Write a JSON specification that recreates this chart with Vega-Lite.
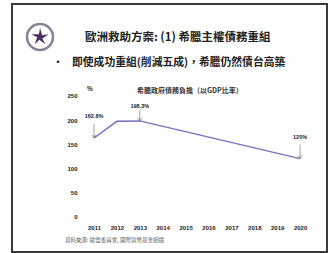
{
  "$schema": "https://vega.github.io/schema/vega-lite/v6.json",
  "width": 315,
  "height": 248,
  "autosize": {"type": "none"},
  "padding": {"left": 12, "top": 4, "right": 8, "bottom": 1},
  "background": "white",
  "config": {
    "view": {"stroke": "#3a3a3a", "strokeWidth": 2, "fill": "white"},
    "font": "Noto Sans CJK TC",
    "axis": {"grid": false, "domain": false, "ticks": false, "tickSize": 0, "title": null,
             "labelOverlap": false, "labelFlush": false, "labelBound": false,
             "labelFont": "Liberation Sans", "labelFontSize": 6, "labelFontWeight": "bold", "labelColor": "#222"}
  },
  "resolve": {"axis": {"x": "independent", "y": "independent"}},
  "datasets": {
    "debt": [
      {"year": 2011, "value": 162.8},
      {"year": 2012, "value": 197.5},
      {"year": 2013, "value": 198.3},
      {"year": 2020, "value": 120}
    ],
    "labels": [
      {"year": 2011, "value": 162.8, "label": "162.8%"},
      {"year": 2013, "value": 198.3, "label": "198.3%"},
      {"year": 2020, "value": 120, "label": "120%"}
    ],
    "texts": [{"slide": "歐洲救助方案: (1) 希臘主權債務重組", "bullet": "即使成功重組(削減五成)，希臘仍然債台高築", "sub": "希臘政府債務負擔（以GDP比率）", "unit": "%", "source": "資料來源: 歐盟委員會, 國際貨幣基金組織"}]
  },
  "layer": [
    {
      "data": {"name": "debt"},
      "mark": {"type": "line", "color": "#7272c2", "strokeWidth": 1.5},
      "encoding": {
        "x": {"field": "year", "type": "quantitative",
              "scale": {"domain": [2007.419, 2021.175], "nice": false, "zero": false},
              "axis": {"values": [2011, 2012, 2013, 2014, 2015, 2016, 2017, 2018, 2019, 2020], "format": "d", "title": null, "offset": -30, "labelPadding": 2, "labelOverlap": false}},
        "y": {"field": "value", "type": "quantitative",
              "scale": {"domain": [-73.7, 440.8], "nice": false, "zero": false},
              "axis": {"values": [0, 50, 100, 150, 200, 250], "title": null, "offset": -66, "labelPadding": 1, "labelOverlap": false}}
      }
    },
    {
      "data": {"name": "labels"},
      "transform": [{"filter": "datum.year != 2013"}],
      "mark": {"type": "point", "shape": "M0,-1L0,0M-0.15,-0.22L0,0L0.15,-0.22", "filled": false, "stroke": "#555", "strokeWidth": 0.8, "size": 784},
      "encoding": {
        "x": {"field": "year", "type": "quantitative", "axis": null},
        "y": {"field": "value", "type": "quantitative", "axis": null}
      }
    },
    {
      "data": {"name": "labels"},
      "transform": [{"filter": "datum.year == 2013"}],
      "mark": {"type": "point", "shape": "M0,-1L0,0M-0.2,-0.3L0,0L0.2,-0.3", "filled": false, "stroke": "#555", "strokeWidth": 0.8, "size": 441},
      "encoding": {
        "x": {"field": "year", "type": "quantitative", "axis": null},
        "y": {"field": "value", "type": "quantitative", "axis": null}
      }
    },
    {
      "data": {"name": "labels"},
      "transform": [{"filter": "datum.year != 2013"}],
      "mark": {"type": "text", "font": "Liberation Sans", "fontSize": 5.5, "fontWeight": "bold", "color": "#222", "dy": -22, "baseline": "middle"},
      "encoding": {
        "x": {"field": "year", "type": "quantitative", "axis": null},
        "y": {"field": "value", "type": "quantitative", "axis": null},
        "text": {"field": "label"}
      }
    },
    {
      "data": {"name": "labels"},
      "transform": [{"filter": "datum.year == 2013"}],
      "mark": {"type": "text", "font": "Liberation Sans", "fontSize": 5.5, "fontWeight": "bold", "color": "#222", "dy": -15, "baseline": "middle"},
      "encoding": {
        "x": {"field": "year", "type": "quantitative", "axis": null},
        "y": {"field": "value", "type": "quantitative", "axis": null},
        "text": {"field": "label"}
      }
    },
    {
      "data": {"name": "texts"},
      "mark": {"type": "text", "fontSize": 11.5, "fontWeight": "bold", "color": "#222", "align": "left", "baseline": "middle"},
      "encoding": {
        "x": {"datum": 2010.607, "type": "quantitative", "axis": null},
        "y": {"datum": 370.3, "type": "quantitative", "axis": null},
        "text": {"field": "slide"}
      }
    },
    {
      "data": {"name": "texts"},
      "mark": {"type": "text", "fontSize": 10.8, "fontWeight": "bold", "color": "#222", "align": "left", "baseline": "middle"},
      "encoding": {
        "x": {"datum": 2010.039, "type": "quantitative", "axis": null},
        "y": {"datum": 318.5, "type": "quantitative", "axis": null},
        "text": {"field": "bullet"}
      }
    },
    {
      "data": {"name": "texts"},
      "mark": {"type": "text", "fontSize": 10, "fontWeight": "bold", "color": "#222", "align": "center", "baseline": "middle", "text": "•"},
      "encoding": {
        "x": {"datum": 2009.428, "type": "quantitative", "axis": null},
        "y": {"datum": 318.5, "type": "quantitative", "axis": null}
      }
    },
    {
      "data": {"name": "texts"},
      "mark": {"type": "text", "fontSize": 7, "fontWeight": "bold", "color": "#333", "align": "left", "baseline": "middle"},
      "encoding": {
        "x": {"datum": 2012.878, "type": "quantitative", "axis": null},
        "y": {"datum": 260.4, "type": "quantitative", "axis": null},
        "text": {"field": "sub"}
      }
    },
    {
      "data": {"name": "texts"},
      "mark": {"type": "text", "font": "Liberation Sans", "fontSize": 6.5, "fontWeight": "bold", "color": "#222", "align": "center", "baseline": "middle"},
      "encoding": {
        "x": {"datum": 2010.825, "type": "quantitative", "axis": null},
        "y": {"datum": 264.5, "type": "quantitative", "axis": null},
        "text": {"field": "unit"}
      }
    },
    {
      "data": {"name": "texts"},
      "mark": {"type": "text", "fontSize": 5.5, "color": "#666", "align": "left", "baseline": "middle"},
      "encoding": {
        "x": {"datum": 2009.734, "type": "quantitative", "axis": null},
        "y": {"datum": -48.8, "type": "quantitative", "axis": null},
        "text": {"field": "source"}
      }
    },
    {
      "data": {"name": "texts"},
      "mark": {"type": "point", "shape": "circle", "filled": false, "fill": "white", "stroke": "#8a8096", "strokeWidth": 2.5, "size": 676, "opacity": 1},
      "encoding": {
        "x": {"datum": 2008.642, "type": "quantitative", "axis": null},
        "y": {"datum": 372.4, "type": "quantitative", "axis": null}
      }
    },
    {
      "data": {"name": "texts"},
      "mark": {"type": "point", "shape": "M0,-0.95L0.23,-0.193L0.9035,-0.2936L0.254,0.159L0.5584,0.7686L-0.073,0.291L-0.5584,0.7686L-0.299,0.021L-0.9035,-0.2936L-0.112,-0.278Z", "filled": true, "fill": "#4a2d68", "strokeWidth": 0, "size": 361, "opacity": 1},
      "encoding": {
        "x": {"datum": 2008.642, "type": "quantitative", "axis": null},
        "y": {"datum": 372.4, "type": "quantitative", "axis": null}
      }
    }
  ]
}
